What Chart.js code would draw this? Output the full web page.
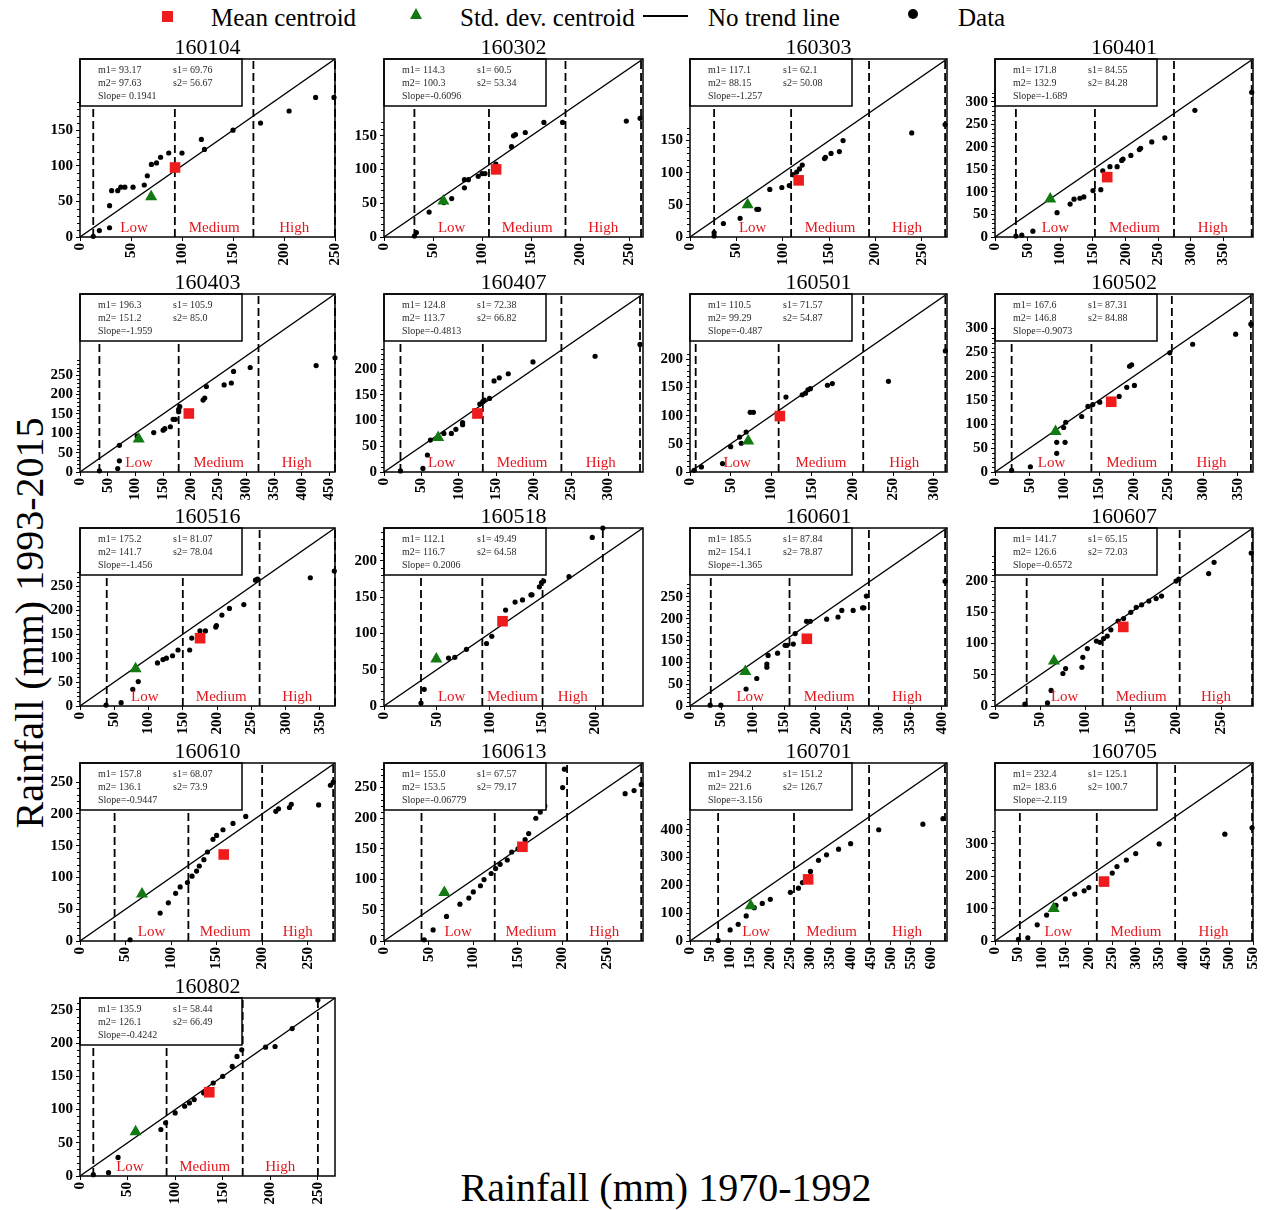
<!DOCTYPE html>
<html>
<head>
<meta charset="utf-8">
<script src="https://cdn.jsdelivr.net/npm/chart.js@4.4.1/dist/chart.umd.min.js"></script>
<style>
  body { margin: 0; background: #fff; width: 1267px; height: 1210px; position: relative; overflow: hidden;
         font-family: "Liberation Serif", "Times New Roman", serif; color: #000; }
  canvas { position: absolute; }
  .lg { position: absolute; top: 3px; font-size: 25px; line-height: 30px; white-space: nowrap; }
  .lg-sq { position: absolute; left: 162px; top: 11px; width: 11px; height: 11px; background: #ee1c1c; }
  .lg-tri { position: absolute; left: 410px; top: 8px; width: 0; height: 0;
            border-left: 6px solid transparent; border-right: 6px solid transparent; border-bottom: 11px solid #137a13; }
  .lg-line { position: absolute; left: 643px; top: 15px; width: 45px; height: 2px; background: #000; }
  .lg-dot { position: absolute; left: 908px; top: 9px; width: 10px; height: 10px; border-radius: 50%; background: #000; }
  .axis-title { position: absolute; font-size: 40px; white-space: nowrap; line-height: 44px; }
</style>
</head>
<body>
<span class="lg-sq"></span><span class="lg" style="left:211px">Mean centroid</span>
<span class="lg-tri"></span><span class="lg" style="left:460px">Std. dev. centroid</span>
<span class="lg-line"></span><span class="lg" style="left:708px">No trend line</span>
<span class="lg-dot"></span><span class="lg" style="left:958px">Data</span>
<div class="axis-title" style="left:30px;top:623px;transform:translate(-50%,-50%) rotate(-90deg)">Rainfall (mm) 1993-2015</div>
<div class="axis-title" style="left:666px;top:1188px;transform:translate(-50%,-50%)">Rainfall (mm) 1970-1992</div>
<script>
// station ids, one panel each (left to right, top to bottom)
const stations = ['160104', '160302', '160303', '160401', '160403', '160407', '160501', '160502',
                  '160516', '160518', '160601', '160607', '160610', '160613', '160701', '160705', '160802'];

// centroid statistics (m = mean, s = std. dev.; 1 = 1970-1992, 2 = 1993-2015)
const m1 = ['93.17', '114.3', '117.1', '171.8', '196.3', '124.8', '110.5', '167.6', '175.2', '112.1', '185.5', '141.7', '157.8', '155.0', '294.2', '232.4', '135.9'];
const m2 = ['97.63', '100.3', '88.15', '132.9', '151.2', '113.7', '99.29', '146.8', '141.7', '116.7', '154.1', '126.6', '136.1', '153.5', '221.6', '183.6', '126.1'];
const s1 = ['69.76', '60.5', '62.1', '84.55', '105.9', '72.38', '71.57', '87.31', '81.07', '49.49', '87.84', '65.15', '68.07', '67.57', '151.2', '125.1', '58.44'];
const s2 = ['56.67', '53.34', '50.08', '84.28', '85.0', '66.82', '54.87', '84.88', '78.04', '64.58', '78.87', '72.03', '73.9', '79.17', '126.7', '100.7', '66.49'];
const slopes = ['0.1941', '-0.6096', '-1.257', '-1.689', '-1.959', '-0.4813', '-0.487', '-0.9073', '-1.456', '0.2006', '-1.365', '-0.6572', '-0.9447', '-0.06779', '-3.156', '-2.119', '-0.4242'];

// axis range (same on both axes) and Low / Medium / High class limits
const axisMax = [250, 264, 277, 395, 460, 346, 316, 372, 372, 245, 408, 285, 280, 290, 640, 550, 268];
const cuts = [
  [13, 93, 170, 250], [31, 107, 185, 262], [26, 109, 193, 275], [32, 153, 274, 393],
  [35, 178, 322, 460], [22, 132, 237, 342], [7, 109, 213, 314], [24, 139, 255, 369],
  [39, 150, 262, 372], [35, 93, 150, 207], [33, 158, 284, 405], [35, 119, 204, 284],
  [38, 119, 200, 278], [42, 124, 205, 288], [70, 259, 446, 635], [53, 217, 384, 548],
  [14, 91, 171, 250]
];

// monthly rainfall pairs [1970-1992, 1993-2015]
const p160104 = [[13,1],[19,9],[29,13],[29,44],[31,65],[37,65],[40,70],[44,70],[52,70],[63,73],[66,86],[70,102],[75,104],[79,112],[87,118],[100,118],[119,137],[122,123],[150,150],[177,160],[205,177],[231,196],[249,196]];
const p160302 = [[31,1.5],[33,6.5],[46,37],[61,51],[69,57],[82,73],[82,85],[86,85],[96,90],[100,94],[103,94],[114,108],[130,134],[132,150],[134,152],[144,155],[163,170],[182,170],[247,172],[261,176]];
const p160303 = [[26,1.6],[26,7],[36,21],[54,29],[72,43],[74,43],[86,74],[99,77],[107,80],[111,97],[115,101],[118,106],[121,112],[145,122],[146,124],[152,130],[161,133],[165,150],[239,162],[275,175]];
const p160401 = [[32,2],[41,4],[58,13],[95,54],[115,73],[121,84],[130,86],[136,89],[150,103],[162,105],[165,147],[176,156],[187,156],[194,170],[196,173],[208,181],[221,194],[223,197],[240,211],[260,220],[306,281],[393,321]];
const p160403 = [[35,3],[68,9],[71,29],[71,69],[103,93],[133,102],[150,108],[153,112],[163,117],[168,136],[172,136],[178,156],[178,162],[180,169],[222,186],[225,191],[228,221],[260,225],[273,230],[277,260],[307,270],[426,275],[460,295]];
const p160407 = [[22,2],[52,7],[58,33],[62,62],[80,75],[90,75],[96,83],[105,92],[105,96],[121,119],[128,132],[132,137],[134,140],[141,143],[147,177],[154,183],[166,191],[199,214],[282,225],[342,248]];
const p160501 = [[5,3],[14,9],[40,15],[50,45],[61,62],[63,51],[69,71],[74,106],[78,106],[118,133],[138,137],[142,140],[145,146],[148,148],[169,154],[175,157],[244,161],[314,215]];
const p160502 = [[24,3.5],[51,11],[89,39],[89,62],[101,62],[99,93],[102,104],[125,116],[134,137],[141,141],[151,146],[179,158],[190,177],[201,181],[194,221],[197,224],[252,249],[285,267],[347,288],[369,309]];
const p160516 = [[38,2],[60,7],[77,35],[85,51],[113,90],[121,97],[126,100],[135,105],[143,117],[160,117],[163,142],[175,157],[183,157],[198,165],[199,168],[207,190],[218,204],[239,212],[256,263],[259,265],[336,268],[371,282]];
const p160518 = [[35,4],[38,23],[61,66],[67,67],[78,78],[97,86],[102,96],[115,132],[124,143],[131,146],[139,153],[140,153],[147,164],[149,170],[151,172],[175,178],[197,232],[207,245]];
const p160601 = [[32,2],[49,2],[89,39],[106,63],[122,89],[122,96],[124,116],[139,121],[151,139],[154,139],[164,142],[167,166],[185,194],[191,194],[217,199],[235,204],[241,219],[259,219],[274,225],[276,225],[280,252],[405,286]];
const p160607 = [[33,3],[58,5],[62,25],[75,52],[78,60],[96,62],[97,78],[102,92],[112,104],[116,102],[120,108],[124,112],[128,122],[136,136],[142,140],[150,150],[156,158],[162,162],[170,168],[178,172],[184,176],[200,200],[203,203],[236,212],[242,230],[283,245]];
const p160610 = [[55,2],[88,44],[97,60],[105,75],[110,85],[118,92],[123,102],[128,110],[131,118],[136,128],[140,140],[146,160],[150,166],[157,175],[168,185],[182,196],[215,204],[218,208],[230,210],[232,215],[262,214],[275,245],[278,250]];
const p160613 = [[45,2],[55,18],[70,40],[85,60],[95,70],[100,80],[108,90],[112,100],[120,110],[125,118],[130,125],[138,132],[143,145],[150,150],[158,165],[162,175],[170,200],[175,210],[180,220],[200,250],[202,280],[270,240],[280,245],[288,255]];
const p160701 = [[70,2],[100,40],[120,60],[140,90],[160,120],[180,135],[200,150],[250,175],[270,190],[280,210],[300,250],[320,290],[340,310],[370,330],[400,350],[470,400],[580,420],[630,440]];
const p160705 = [[50,5],[70,10],[90,50],[110,80],[130,110],[150,130],[170,145],[190,155],[200,165],[230,185],[250,210],[260,230],[280,250],[300,270],[350,300],[490,330],[548,350]];
const p160802 = [[14,2],[30,5],[40,28],[85,70],[90,80],[100,95],[110,105],[115,110],[120,115],[130,125],[140,140],[150,150],[160,165],[165,180],[170,190],[195,194],[205,195],[223,222],[250,265]];
const points = [p160104, p160302, p160303, p160401, p160403, p160407, p160501, p160502,
                p160516, p160518, p160601, p160607, p160610, p160613, p160701, p160705, p160802];

const zoneNames = ['Low', 'Medium', 'High'];

// page layout of the 4 x 5 panel grid
const COL_LEFT = [80, 384, 690, 995];
const COL_WIDTH = [255, 259, 257, 258];
const ROW_TOP = [59, 294, 528, 763, 998];
const PLOT_H = 178;
const Y_AXIS_W = 50, X_AXIS_H = 42, PAD_TOP = 30, PAD_RIGHT = 12;
const BOX_W = 162, BOX_H = 47;
const RED = '#ee1c1c', GREEN = '#137a13', ZONE_RED = '#e3171f';
const SERIF = '"Liberation Serif", "Times New Roman", serif';

Chart.defaults.font.family = SERIF;

const range = (from, to, step) => {
  const out = [];
  for (let v = from; v <= to + 1e-9; v += step) out.push(v);
  return out;
};

// stats box, class labels, frame, minor ticks and station title
const panelDecor = {
  id: 'panelDecor',
  afterDatasetsDraw(chart, args, opts) {
    const { ctx, chartArea: a, scales: { x, y } } = chart;
    const i = opts.index;
    ctx.save();

    // dashed class limits and 1:1 line are datasets; now the class names
    ctx.fillStyle = ZONE_RED;
    ctx.font = '15px ' + SERIF;
    ctx.textAlign = 'center';
    ctx.textBaseline = 'middle';
    for (let k = 0; k < 3; k++) {
      const cx = (x.getPixelForValue(cuts[i][k]) + x.getPixelForValue(cuts[i][k + 1])) / 2;
      ctx.fillText(zoneNames[k], cx, a.bottom - 9);
    }

    // statistics box in the top-left corner
    ctx.fillStyle = '#fff';
    ctx.fillRect(a.left, a.top, BOX_W, BOX_H);
    ctx.strokeStyle = '#000';
    ctx.lineWidth = 1.5;
    ctx.strokeRect(a.left, a.top, BOX_W, BOX_H);
    ctx.fillStyle = '#2a2a2a';
    ctx.font = '10px ' + SERIF;
    ctx.textAlign = 'left';
    const sl = slopes[i].startsWith('-') ? 'Slope=' + slopes[i] : 'Slope= ' + slopes[i];
    ctx.fillText('m1= ' + m1[i], a.left + 18, a.top + 11);
    ctx.fillText('s1= ' + s1[i], a.left + 93, a.top + 11);
    ctx.fillText('m2= ' + m2[i], a.left + 18, a.top + 24);
    ctx.fillText('s2= ' + s2[i], a.left + 93, a.top + 24);
    ctx.fillText(sl, a.left + 18, a.top + 37);

    // plot frame
    ctx.lineWidth = 1.5;
    ctx.strokeRect(a.left, a.top, a.right - a.left, a.bottom - a.top);

    // minor ticks on the y axis
    const yTop = Math.max(...points[i].map(p => p[1]));
    const major = axisMax[i] > 500 ? 100 : 50;
    const minor = major / 5;
    ctx.lineWidth = 1;
    ctx.beginPath();
    for (const v of range(minor, yTop, minor)) {
      if (v % major === 0) continue;
      const py = Math.round(y.getPixelForValue(v)) + 0.5;
      ctx.moveTo(a.left - 3, py);
      ctx.lineTo(a.left, py);
    }
    ctx.stroke();

    // station title
    ctx.fillStyle = '#000';
    ctx.font = '22px ' + SERIF;
    ctx.textAlign = 'center';
    ctx.fillText(stations[i], (a.left + a.right) / 2, a.top - 11);
    ctx.restore();
  }
};

stations.forEach((name, i) => {
  const col = i % 4, row = Math.floor(i / 4);
  const w = COL_WIDTH[col];
  const max = axisMax[i];
  const yTop = Math.max(...points[i].map(p => p[1]));
  const yStep = max > 500 ? 100 : 50;

  const canvas = document.createElement('canvas');
  const cw = Y_AXIS_W + w + PAD_RIGHT, ch = PAD_TOP + PLOT_H + X_AXIS_H;
  canvas.width = cw;
  canvas.height = ch;
  canvas.style.left = (COL_LEFT[col] - Y_AXIS_W) + 'px';
  canvas.style.top = (ROW_TOP[row] - PAD_TOP) + 'px';
  canvas.style.width = cw + 'px';
  canvas.style.height = ch + 'px';
  document.body.appendChild(canvas);

  const limitLines = cuts[i].map(c => ({
    data: [{ x: c, y: 0 }, { x: c, y: max }],
    showLine: true, borderColor: '#000', borderWidth: 1.8, borderDash: [8, 4],
    pointRadius: 0, clip: false
  }));

  new Chart(canvas, {
    type: 'scatter',
    data: {
      datasets: [
        { data: [{ x: parseFloat(m1[i]), y: parseFloat(m2[i]) }], pointStyle: 'rect',
          pointRadius: 7.5, backgroundColor: RED, borderWidth: 0, clip: false },
        { data: [{ x: parseFloat(s1[i]), y: parseFloat(s2[i]) }], pointStyle: 'triangle',
          pointRadius: 7, backgroundColor: GREEN, borderWidth: 0, clip: false },
        { data: points[i].map(([x, y]) => ({ x, y })), pointRadius: 2.6,
          backgroundColor: '#000', borderWidth: 0, clip: false },
        { data: [{ x: 0, y: 0 }, { x: max, y: max }], showLine: true, borderColor: '#000',
          borderWidth: 1.5, pointRadius: 0, clip: false },
        ...limitLines
      ]
    },
    options: {
      responsive: false,
      devicePixelRatio: 1,
      animation: false,
      events: [],
      layout: { padding: { top: PAD_TOP, right: PAD_RIGHT, left: 0, bottom: 0 } },
      plugins: {
        legend: { display: false },
        tooltip: { enabled: false },
        panelDecor: { index: i }
      },
      scales: {
        x: {
          type: 'linear', min: 0, max: max,
          afterBuildTicks: s => { s.ticks = range(0, max, 50).map(v => ({ value: v })); },
          afterFit: s => { s.height = X_AXIS_H; s.paddingLeft = 0; s.paddingRight = 0; },
          grid: { drawOnChartArea: false, tickLength: 4, tickColor: '#000', tickWidth: 1 },
          border: { display: false },
          ticks: { autoSkip: false, minRotation: 90, maxRotation: 90, padding: 2, color: '#000',
                   font: { size: 15, weight: 'bold' } }
        },
        y: {
          type: 'linear', min: 0, max: max,
          afterBuildTicks: s => { s.ticks = range(0, yTop, yStep).map(v => ({ value: v })); },
          afterFit: s => { s.width = Y_AXIS_W; s.paddingTop = 0; s.paddingBottom = 0; },
          grid: { drawOnChartArea: false, tickLength: 4, tickColor: '#000', tickWidth: 1 },
          border: { display: false },
          ticks: { padding: 3, color: '#000', font: { size: 15, weight: 'bold' } }
        }
      }
    },
    plugins: [panelDecor]
  });
});
</script>
</body>
</html>
